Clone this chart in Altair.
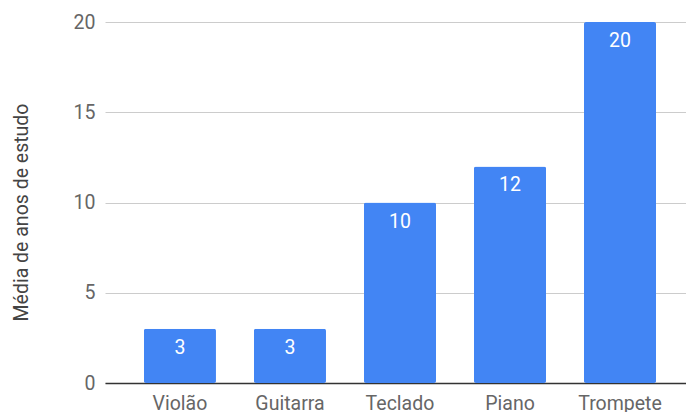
import altair as alt
import pandas as pd

instrumentos = ["Violão", "Guitarra", "Teclado", "Piano", "Trompete"]
anos = [3, 3, 10, 12, 20]
y_ticks = [0, 5, 10, 15, 20]

df = pd.DataFrame({"instrumento": instrumentos, "anos": anos})

FONT = "Roboto"

base = alt.Chart(df).encode(
    x=alt.X(
        "instrumento:N",
        sort=instrumentos,
        scale=alt.Scale(paddingInner=0.345, paddingOuter=0.313, align=0.565),
        axis=alt.Axis(
            title=None,
            labelAngle=0,
            labelFont=FONT,
            labelFontSize=19.5,
            labelColor="#666666",
            labelPadding=11,
            ticks=False,
            domain=True,
            domainColor="#333333",
            domainWidth=1.5,
            grid=False,
        ),
    ),
    y=alt.Y(
        "anos:Q",
        scale=alt.Scale(domain=[0, 20], nice=False),
        axis=alt.Axis(
            values=y_ticks,
            title="Média de anos de estudo",
            titleFont=FONT,
            titleFontSize=19.5,
            titleFontWeight="normal",
            titleColor="#444444",
            titlePadding=42,
            titleY=190,
            labelFont=FONT,
            labelFontSize=19.5,
            labelColor="#666666",
            labelPadding=10,
            ticks=False,
            domain=False,
            grid=True,
            gridColor="#cccccc",
            gridWidth=1,
        ),
    ),
)

bars = base.mark_bar(color="#4285F4", cornerRadius=2)

labels = base.mark_text(
    baseline="middle",
    dy=19,
    color="white",
    font=FONT,
    fontSize=19.5,
).encode(text="anos:Q")

chart = (
    alt.layer(bars, labels)
    .properties(
        width=581,
        height=361,
        autosize=alt.AutoSizeParams(type="none"),
        padding={"left": 105, "top": 22, "right": 0, "bottom": 29},
    )
    .configure_view(stroke=None)
)

chart.save("out.html", embed_options={"renderer": "svg", "actions": False})
